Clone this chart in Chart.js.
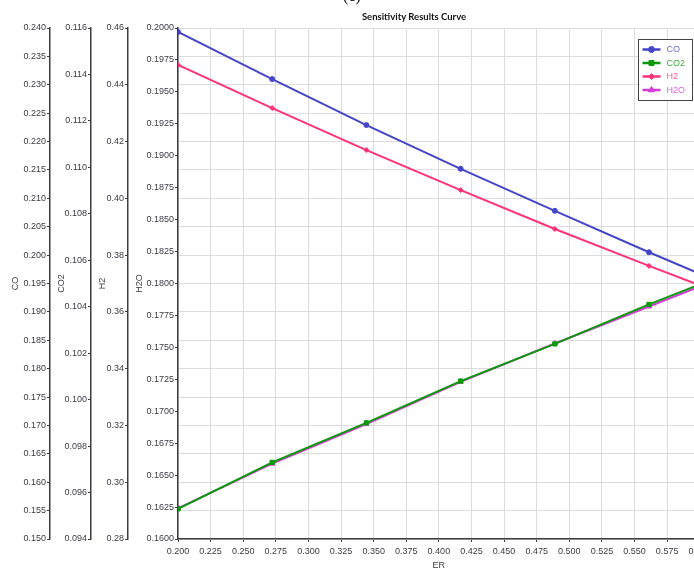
<!DOCTYPE html>
<html>
<head>
<meta charset="utf-8">
<title>Sensitivity Results Curve</title>
<script src="https://cdn.jsdelivr.net/npm/chart.js@4.4.1/dist/chart.umd.min.js"></script>
<style>
  html, body { margin: 0; padding: 0; background: #fff; overflow: hidden; }
  #wrap { position: relative; width: 715px; height: 571px; }
  #panel { position: absolute; left: 343px; top: -13px; font: 16px "Liberation Serif", serif; color: #000; }
  #heading { position: absolute; left: 314px; width: 200px; top: 11px; text-align: center;
             font: bold 9.5px Lato, "Liberation Sans", sans-serif; color: #111; }
</style>
</head>
<body>
<div id="wrap">
  <canvas id="chartSens"></canvas>
  <div id="panel">(c)</div>
  <div id="heading">Sensitivity Results Curve</div>
</div>
<script>
const erValues = [0.2, 0.2722, 0.3444, 0.4167, 0.4889, 0.5611, 0.6333];
const coValues = [0.2393, 0.2310, 0.2229, 0.2152, 0.2078, 0.2005, 0.1935];
const co2Values = [0.0953, 0.0973, 0.0990, 0.1008, 0.1024, 0.1041, 0.1057];
const h2Values = [0.4470, 0.4318, 0.4170, 0.4029, 0.3892, 0.3762, 0.3635];
const h2oValues = [0.1624, 0.1659, 0.1690, 0.1723, 0.1753, 0.1782, 0.1811];

const tickFont = { family: "'Liberation Sans', Arial, sans-serif", size: 9 };
const gridColor = "#dcdcdc";
const axisColor = "#3c3c3c";
const labelColor = "#3a3a44";

const toPoints = (ys) => ys.map((y, i) => ({ x: erValues[i], y: y }));

// one of the stacked left axes; width fixed so the axis lines sit where they do in the figure
function leftAxis(min, max, step, digits, title, weight, width, onArea) {
  return {
    type: "linear",
    position: "left",
    weight: weight,
    min: min,
    max: max,
    afterFit: (scale) => { scale.width = width; },
    border: { display: true, color: axisColor, width: 1.5 },
    grid: { drawOnChartArea: onArea, color: gridColor, tickColor: axisColor, tickLength: 3 },
    ticks: {
      stepSize: step,
      padding: 1,
      color: labelColor,
      font: tickFont,
      callback: (v) => Number(v).toFixed(digits),
    },
    title: { display: true, text: title, color: labelColor, font: tickFont, padding: { top: 6, bottom: 0 } },
  };
}

const legendBox = {
  id: "legendBox",
  afterDatasetsDraw(chart) {
    const ctx = chart.ctx;
    const area = chart.chartArea;
    const sets = chart.data.datasets;
    const w = 54, rowH = 13.5;
    const h = sets.length * rowH + 7;
    const x = Math.round(area.right - 8 - w) + 0.5;
    const y = Math.round(area.top + 11) + 0.5;
    ctx.save();
    ctx.fillStyle = "#fff";
    ctx.fillRect(x, y, w, h);
    ctx.strokeStyle = "#444";
    ctx.lineWidth = 1;
    ctx.strokeRect(x, y, w, h);
    ctx.font = "9px 'Liberation Sans', Arial, sans-serif";
    ctx.textBaseline = "middle";
    sets.forEach((ds, i) => {
      const cy = y + 10 + i * rowH;
      ctx.strokeStyle = ds.borderColor;
      ctx.fillStyle = ds.borderColor;
      ctx.lineWidth = 2.5;
      ctx.beginPath();
      ctx.moveTo(x + 4, cy);
      ctx.lineTo(x + 22, cy);
      ctx.stroke();
      ctx.lineWidth = 1;
      Chart.helpers.drawPoint(ctx, { pointStyle: ds.pointStyle, radius: ds.pointRadius + 0.5, rotation: 0, borderWidth: 1 }, x + 13, cy);
      ctx.globalAlpha = 0.8;
      ctx.fillText(ds.label, x + 28, cy + 0.5);
      ctx.globalAlpha = 1;
    });
    ctx.restore();
  },
};

new Chart(document.getElementById("chartSens"), {
  type: "line",
  data: {
    datasets: [
      { label: "CO", data: toPoints(coValues), yAxisID: "yCO", borderColor: "#4545c8", backgroundColor: "#4545c8",
        pointStyle: "circle", pointRadius: 2.5 },
      { label: "CO2", data: toPoints(co2Values), yAxisID: "yCO2", borderColor: "#0a9a0a", backgroundColor: "#0a9a0a",
        pointStyle: "rect", pointRadius: 3 },
      { label: "H2", data: toPoints(h2Values), yAxisID: "yH2", borderColor: "#ff3377", backgroundColor: "#ff3377",
        pointStyle: "rectRot", pointRadius: 2.5 },
      { label: "H2O", data: toPoints(h2oValues), yAxisID: "yH2O", borderColor: "#d23cd2", backgroundColor: "#d23cd2",
        pointStyle: "triangle", pointRadius: 3 },
    ],
  },
  options: {
    responsive: true,
    maintainAspectRatio: false,
    animation: false,
    layout: { padding: { left: 4, right: 0, top: 28, bottom: 0 } },
    elements: {
      line: { borderWidth: 2, tension: 0 },
      point: { borderWidth: 1 },
    },
    plugins: {
      legend: { display: false },
      title: { display: false },
      tooltip: { enabled: false },
    },
    scales: {
      x: {
        type: "linear",
        position: "bottom",
        min: 0.2,
        max: 0.6,
        afterFit: (scale) => { scale.height = 32; },
        border: { display: true, color: axisColor, width: 1.5 },
        grid: { color: gridColor, tickColor: axisColor, tickLength: 3 },
        ticks: {
          stepSize: 0.025,
          autoSkip: false,
          maxRotation: 0,
          padding: 4,
          color: labelColor,
          font: tickFont,
          callback: (v) => Number(v).toFixed(3),
        },
        title: { display: true, text: "ER", color: labelColor, font: tickFont, padding: { top: 2, bottom: 0 } },
      },
      yCO: leftAxis(0.15, 0.24, 0.005, 3, "CO", 4, 46, true),
      yCO2: leftAxis(0.094, 0.116, 0.002, 3, "CO2", 3, 41, false),
      yH2: leftAxis(0.28, 0.46, 0.02, 2, "H2", 2, 37, false),
      yH2O: leftAxis(0.16, 0.2, 0.0025, 4, "H2O", 1, 50, false),
    },
  },
  plugins: [legendBox],
});
</script>
</body>
</html>
